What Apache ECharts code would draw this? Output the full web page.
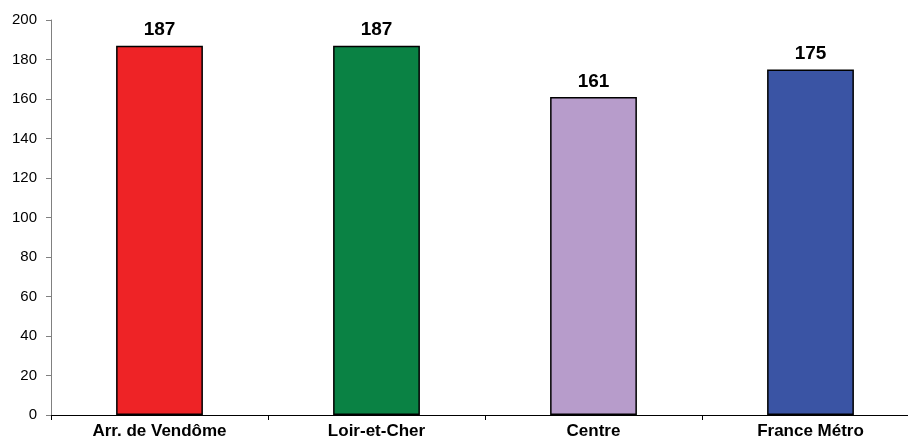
<!DOCTYPE html>
<html><head><meta charset="utf-8">
<script src="https://cdn.jsdelivr.net/npm/echarts@6/dist/echarts.min.js"></script>
<style>html,body{margin:0;padding:0;background:#fff;overflow:hidden}#c{width:919px;height:445px}</style>
</head><body><div id="c"></div>
<script>
const categories = ["Arr. de Vendôme", "Loir-et-Cher", "Centre", "France Métro"];
const values = [187, 187, 161, 175];
const colors = ["#EE2326", "#0A8244", "#B79CCB", "#3A54A4"];
const yTicks = {min: 0, max: 200, interval: 20};

const chart = echarts.init(document.getElementById('c'));
chart.setOption({
  animation: false,
  grid: {left: 51, right: 0, top: 20, bottom: 30, containLabel: false},
  xAxis: {
    type: 'category', data: categories,
    axisLine: {lineStyle: {color: '#000', width: 1}},
    axisTick: {show: true, length: 5, lineStyle: {color: '#000'}},
    axisLabel: {color: '#000', fontFamily: 'Liberation Sans, Arial', fontWeight: 'bold', fontSize: 17, margin: 8}
  },
  yAxis: {
    type: 'value', min: yTicks.min, max: yTicks.max, interval: yTicks.interval,
    axisLine: {show: true, lineStyle: {color: '#808080', width: 1}},
    axisTick: {show: true, length: 5, lineStyle: {color: '#808080'}},
    splitLine: {show: false},
    axisLabel: {color: '#000', fontFamily: 'Liberation Sans, Arial', fontSize: 15, margin: 14}
  },
  series: [{
    type: 'bar', barWidth: '40%',
    data: values.map((v, i) => ({value: v, itemStyle: {color: colors[i]}})),
    itemStyle: {borderColor: '#000', borderWidth: 1.5},
    label: {show: true, position: 'top', distance: 6, color: '#000', fontFamily: 'Liberation Sans, Arial', fontWeight: 'bold', fontSize: 19}
  }]
});
</script></body></html>
